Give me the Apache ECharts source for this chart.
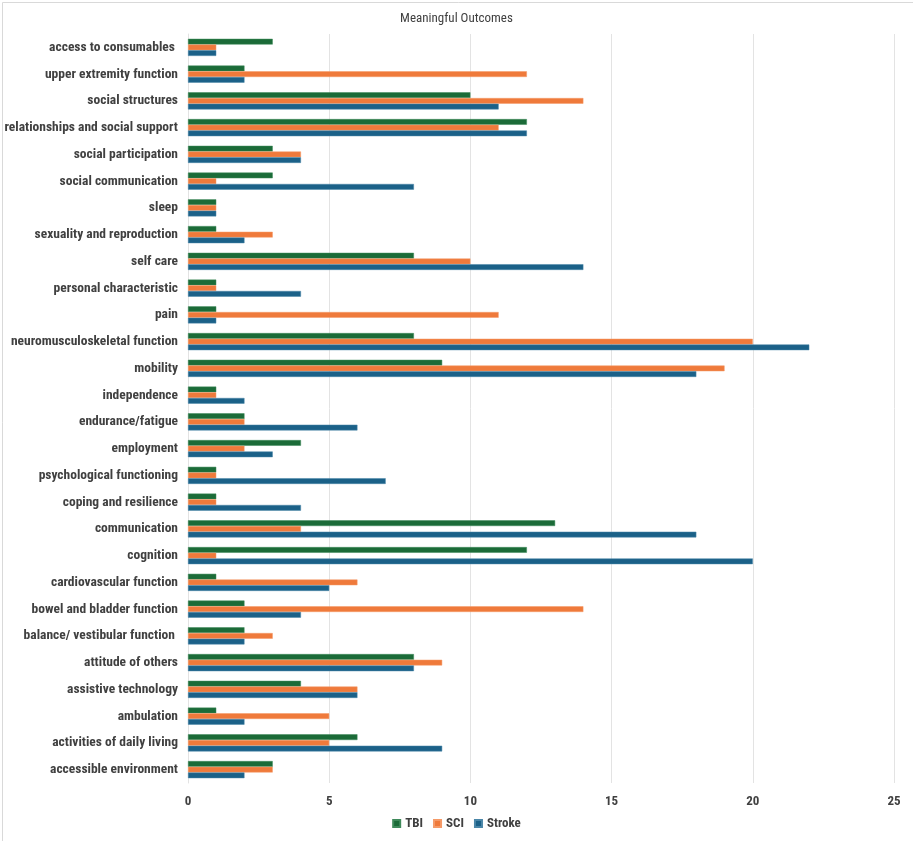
<!DOCTYPE html>
<html><head><meta charset="utf-8">
<script src="https://cdn.jsdelivr.net/npm/echarts@6/dist/echarts.min.js"></script>
<style>html,body{margin:0;padding:0;background:#fff}#c{width:913px;height:841px}</style>
</head><body><div id="c"></div>
<script>
const categories = ["accessible environment","activities of daily living","ambulation","assistive technology","attitude of others","balance/ vestibular function ","bowel and bladder function","cardiovascular function","cognition","communication","coping and resilience","psychological functioning","employment","endurance/fatigue","independence","mobility","neuromusculoskeletal function","pain","personal characteristic","self care","sexuality and reproduction","sleep","social communication","social participation","relationships and social support","social structures","upper extremity function","access to consumables "];
const tbi    = [3,6,1,4,8,2,2,1,12,13,1,1,4,2,1,9,8,1,1,8,1,1,3,3,12,10,2,3];
const sci    = [3,5,5,6,9,3,14,6,1,4,1,1,2,2,1,19,20,11,1,10,3,1,1,4,11,14,12,1];
const stroke = [2,9,2,6,8,2,4,5,20,18,4,7,3,6,2,18,22,1,4,14,2,1,8,4,12,11,2,1];
const xTicks = [0,5,10,15,20,25];
const seriesNames = ["TBI","SCI","Stroke"];

const font = '"Liberation Sans Narrow","Arial Narrow","Roboto Condensed","Liberation Sans",sans-serif';
const chart = echarts.init(document.getElementById('c'));
chart.setOption({
  backgroundColor:'#fff',
  animation:false,
  color:['#1b6b38','#ef7a3b','#1b6188'],
  title:{text:'Meaningful Outcomes',left:'center',top:7,textStyle:{fontFamily:font,fontSize:13,fontWeight:'normal',color:'#404040'}},
  legend:{data:seriesNames,bottom:6,left:'center',itemWidth:7,itemHeight:7,itemGap:10,icon:'rect',
    textStyle:{fontFamily:font,fontSize:13,fontWeight:'bold',color:'#404040'}},
  grid:{left:188,right:19,top:34,bottom:58,containLabel:false},
  xAxis:{type:'value',min:0,max:25,interval:5,
    axisLine:{show:false},axisTick:{show:false},
    axisLabel:{fontFamily:font,fontSize:13,fontWeight:'bold',color:'#404040',margin:12,
      formatter:v=>xTicks.includes(v)?String(v):''},
    splitLine:{lineStyle:{color:'#e3e3e3'}}},
  yAxis:{type:'category',data:categories,
    axisLine:{show:true,lineStyle:{color:'#e3e3e3'}},axisTick:{show:false},
    axisLabel:{fontFamily:font,fontSize:13.5,fontWeight:'bold',color:'#404040',margin:10}},
  series:[
    {name:'TBI',type:'bar',data:tbi,barGap:'0%',barCategoryGap:'36%',itemStyle:{borderColor:'#3f8a5a',borderWidth:0.5}},
    {name:'SCI',type:'bar',data:sci,barGap:'0%',barCategoryGap:'36%',itemStyle:{borderColor:'#f59a68',borderWidth:0.5}},
    {name:'Stroke',type:'bar',data:stroke,barGap:'0%',barCategoryGap:'36%',itemStyle:{borderColor:'#4a86a8',borderWidth:0.5}}
  ],
  graphic:[{type:'rect',left:0,top:0,shape:{width:912,height:840},style:{fill:'none',stroke:'#d9d9d9',lineWidth:1},silent:true}]
});
</script></body></html>
